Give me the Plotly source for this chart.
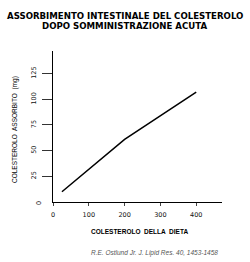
import plotly.graph_objects as go

# Data
dieta = [25, 200, 400]
assorbito = [10, 61, 107]
x_ticks = [0, 100, 200, 300, 400]
y_ticks = [0, 25, 50, 75, 100, 125]
title_lines = ["ASSORBIMENTO INTESTINALE DEL COLESTEROLO", "DOPO SOMMINISTRAZIONE ACUTA"]
x_title = "COLESTEROLO  DELLA  DIETA"
y_title = "COLESTEROLO  ASSORBITO  (mg)"
citation = "R.E. Ostlund Jr. J. Lipid Res. 40, 1453-1458"

L, T, B = 53, 51, 60
W, H = 250, 262
PW, PH = W - L - 28, H - T - B
Y0 = H - B


def px(x):
    return (x - L) / PW


def py(y):
    return (Y0 - y) / PH


fig = go.Figure()
fig.add_trace(go.Scatter(x=dieta, y=assorbito, mode="lines",
                         line=dict(color="black", width=1.5), hoverinfo="skip"))

fig.update_layout(
    width=W, height=H,
    margin=dict(l=L, r=28, t=T, b=B),
    paper_bgcolor="white", plot_bgcolor="white",
    showlegend=False,
    font=dict(family="Liberation Sans", size=7, color="black"),
)
fig.update_xaxes(range=[0, 472], showgrid=False, zeroline=False,
                 showline=True, linecolor="black", linewidth=1.3,
                 tickvals=x_ticks, ticktext=[str(v) for v in x_ticks],
                 ticks="outside", ticklen=3, tickcolor="#444", tickwidth=1,
                 ticklabelstandoff=3,
                 tickfont=dict(family="DejaVu Sans", size=6.5, color="#111"))
fig.update_yaxes(range=[0, 147], showgrid=False, zeroline=False,
                 showline=True, linecolor="black", linewidth=1.3,
                 tickvals=y_ticks[1:], ticktext=[str(v) for v in y_ticks[1:]],
                 ticks="outside", ticklen=10, tickcolor="#333", tickwidth=1.3,
                 tickangle=-90, ticklabelstandoff=3,
                 tickfont=dict(family="DejaVu Sans", size=6.5, color="#111"))

# y=0 tick label (no tick mark in the original)
fig.add_annotation(x=0, y=0, xref="paper", yref="y", text=str(y_ticks[0]),
                   showarrow=False, textangle=-90, xshift=-20, yshift=-1,
                   font=dict(family="DejaVu Sans", size=6.5, color="#111"))

for line_text, ypix in zip(title_lines, [15.7, 25.7]):
    fig.add_annotation(x=px(124.5), y=py(ypix), xref="paper", yref="paper",
                       xanchor="center", yanchor="middle", showarrow=False,
                       text="<b>" + line_text + "</b>",
                       font=dict(family="DejaVu Sans", size=8.6, color="black"))

fig.add_annotation(x=px(139.5), y=py(232), xref="paper", yref="paper",
                   xanchor="center", yanchor="middle", showarrow=False,
                   text="<b>" + x_title + "</b>",
                   font=dict(family="Liberation Sans", size=6.5, color="black"))

fig.add_annotation(x=px(15), y=py(130), xref="paper", yref="paper",
                   xanchor="center", yanchor="middle", showarrow=False, textangle=-90,
                   text=y_title,
                   font=dict(family="Liberation Sans", size=6.5, color="black"))

fig.add_annotation(x=px(220), y=py(252.7), xref="paper", yref="paper",
                   xanchor="right", yanchor="middle", showarrow=False,
                   text="<i>" + citation + "</i>",
                   font=dict(family="Liberation Sans", size=6.5, color="#555"))

fig.write_html("out.html")
